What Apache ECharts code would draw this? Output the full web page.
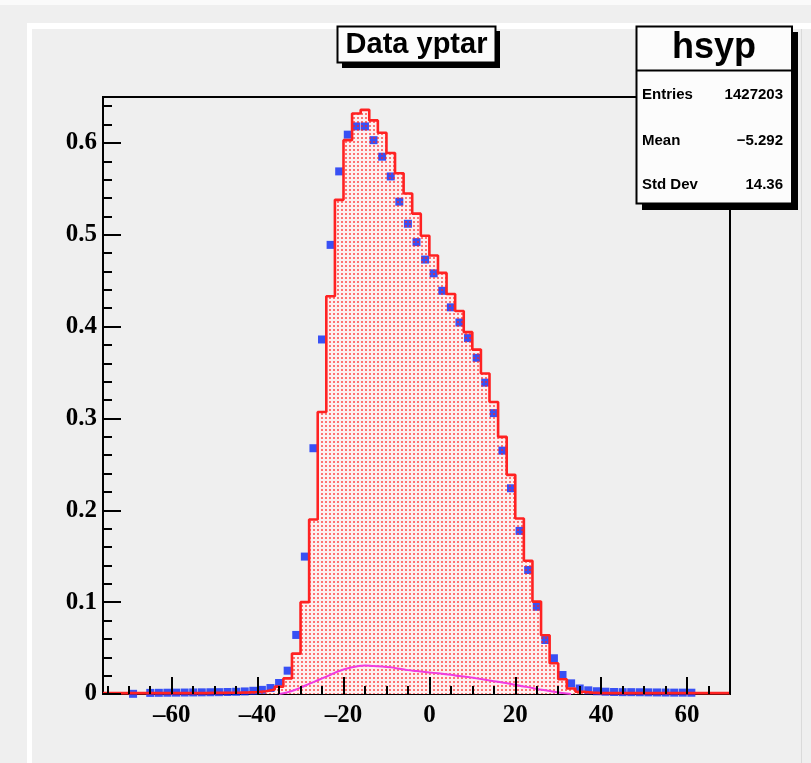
<!DOCTYPE html>
<html><head><meta charset="utf-8">
<script src="https://cdn.jsdelivr.net/npm/echarts@6/dist/echarts.min.js"></script>
<style>html,body{margin:0;padding:0;background:#efefef}#c{width:811px;height:763px}</style>
</head><body><div id="c"></div>
<script>
// ---- data ----
const binCenters = [-75,-73,-71,-69,-67,-65,-63,-61,-59,-57,-55,-53,-51,-49,-47,-45,-43,-41,-39,-37,-35,-33,-31,-29,-27,-25,-23,-21,-19,-17,-15,-13,-11,-9,-7,-5,-3,-1,1,3,5,7,9,11,13,15,17,19,21,23,25,27,29,31,33,35,37,39,41,43,45,47,49,51,53,55,57,59,61,63,65,67,69];
const BIN_HALF = 1;
const mcValues = [0.001,0.001,0.001,0.001,0.001,0.001,0.001,0.001,0.001,0.001,0.001,0.001,
  0.0012,0.0012,0.0013,0.0015,0.0018,0.0022,0.003,0.005,0.008,0.017,0.044,0.100,0.190,0.307,0.433,0.538,0.603,0.632,0.636,0.6245,0.611,0.589,0.567,0.545,0.523,0.499,0.4775,0.4585,0.4355,0.417,0.394,0.375,0.349,0.318,0.280,0.2386,0.191,0.145,0.1006,0.064,0.0334,0.016,0.006,0.0025,0.0015,
  0.001,0.001,0.001,0.001,0.001,0.001,0.001,0.001,0.001,0.001,0.001,0.001,0.001,0.001,0.001,0.001];
const dataValues = [null,null,null,0.0002,null,
  0.0012,0.0013,0.0014,0.0015,0.0016,0.0017,0.0018,0.0019,0.002,0.0022,0.0024,0.0028,0.0035,0.0045,0.0065,
  0.012,0.0254,0.0643,0.1496,0.2676,0.386,0.489,0.569,0.609,0.618,0.618,0.603,0.585,0.5635,0.536,0.512,0.492,0.473,0.458,0.439,0.421,0.4045,0.3875,0.366,0.339,0.3058,0.265,0.224,0.1776,0.135,0.095,0.0588,0.0389,0.0207,0.0116,0.006,0.004,
  0.003,0.0025,0.0022,0.002,0.002,0.0019,0.0018,0.0017,0.0016,0.0015,0.0015,0.0014,
  null,null,null,null];
const bgCenters = [-35,-33,-31,-29,-27,-25,-23,-21,-19,-17,-15,-13,-11,-9,-7,-5,-3,-1,1,3,5,7,9,11,13,15,17,19,21,23,25,27,29,31,33];
const bgValues = [0.0,0.002,0.005,0.009,0.013,0.017,0.021,0.025,0.028,0.030,0.031,0.0305,0.030,0.029,0.0275,0.026,0.025,0.024,0.023,0.022,0.021,0.0195,0.0185,0.017,0.0155,0.014,0.0125,0.011,0.009,0.0075,0.0055,0.004,0.0025,0.001,0.0];
const xMajorTicks = [-60,-40,-20,0,20,40,60];
const xMinorTicks = [-75,-70,-65,-55,-50,-45,-35,-30,-25,-15,-10,-5,5,10,15,25,30,35,45,50,55,65,70];
const yMajorTicks = [0,0.1,0.2,0.3,0.4,0.5,0.6];
const yMinorTicks = [0.02,0.04,0.06,0.08,0.12,0.14,0.16,0.18,0.22,0.24,0.26,0.28,0.32,0.34,0.36,0.38,0.42,0.44,0.46,0.48,0.52,0.54,0.56,0.58,0.62,0.64];
const titleText = 'Data yptar';
const statsName = 'hsyp';
const statsRows = [['Entries','1427203'],['Mean','\u22125.292'],['Std Dev','14.36']];

// ---- build ----
const stepPts = mcValues.map((v,i)=>[binCenters[i]-BIN_HALF, v]);
stepPts.push([binCenters[binCenters.length-1]+BIN_HALF, mcValues[mcValues.length-1]]);
const dataPts = [];
binCenters.forEach((x,i)=>{ if(dataValues[i]!==null) dataPts.push([x,dataValues[i]]); });
const bgPts = bgCenters.map((x,i)=>[x,bgValues[i]]);

function makePattern(){
  const c=document.createElement('canvas'); c.width=4; c.height=4;
  const g=c.getContext('2d');
  g.fillStyle='rgba(255,30,30,0.6)'; g.fillRect(1,1,2,2);
  return c;
}

const serifFont = '"Liberation Serif","Times New Roman",serif';
const sansFont = '"Liberation Sans",Arial,Helvetica,sans-serif';
const axisLabelBase = {fontFamily:serifFont, fontWeight:'bold', fontSize:25, color:'#000'};
const fmtMinus = v => (v===0?'0':String(v)).replace('-', '\u2013');

const chart = echarts.init(document.getElementById('c'), null, {renderer:'canvas'});
const option = {
  animation:false,
  backgroundColor:'#efefef',
  grid:{left:103, top:97, right:81, bottom:69, show:true, borderColor:'#000', borderWidth:2, backgroundColor:'transparent'},
  xAxis:[
    {type:'value', min:-76, max:70, position:'bottom', z:10,
      axisLine:{show:false, onZero:false}, splitLine:{show:false},
      axisTick:{show:true, inside:true, length:17, lineStyle:{color:'#000', width:2}, customValues:xMajorTicks},
      axisLabel:Object.assign({customValues:xMajorTicks, margin:9, formatter:fmtMinus}, axisLabelBase)},
    {type:'value', min:-76, max:70, position:'bottom', z:10,
      axisLine:{show:false, onZero:false}, splitLine:{show:false},
      axisTick:{show:true, inside:true, length:8, lineStyle:{color:'#000', width:2}, customValues:xMinorTicks},
      axisLabel:{show:false, customValues:xMinorTicks}}
  ],
  yAxis:[
    {type:'value', min:0, max:0.65, position:'left', z:10,
      axisLine:{show:false, onZero:false}, splitLine:{show:false},
      axisTick:{show:true, inside:true, length:18, lineStyle:{color:'#000', width:2}, customValues:yMajorTicks},
      axisLabel:Object.assign({customValues:yMajorTicks, margin:6, formatter:fmtMinus}, axisLabelBase)},
    {type:'value', min:0, max:0.65, position:'left', z:10,
      axisLine:{show:false, onZero:false}, splitLine:{show:false},
      axisTick:{show:true, inside:true, length:9, lineStyle:{color:'#000', width:2}, customValues:yMinorTicks},
      axisLabel:{show:false, customValues:yMinorTicks}}
  ],
  series:[
    {type:'line', xAxisIndex:0, yAxisIndex:0, data:stepPts, step:'end', symbol:'none', silent:true,
      lineStyle:{width:0, opacity:0}, areaStyle:{color:'#fdf0f0', opacity:1}, z:2},
    {type:'scatter', xAxisIndex:0, yAxisIndex:0, data:dataPts, symbol:'rect', symbolSize:8, silent:true,
      itemStyle:{color:'#0a28f5'}, z:3},
    {type:'line', xAxisIndex:0, yAxisIndex:0, data:stepPts, step:'end', symbol:'none', silent:true,
      lineStyle:{color:'#ff2222', width:2.6}, areaStyle:{color:{image:makePattern(), repeat:'repeat'}, opacity:1}, z:4},
    {type:'line', xAxisIndex:0, yAxisIndex:0, data:bgPts, smooth:true, symbol:'none', silent:true,
      lineStyle:{color:'#f03ce0', width:2}, z:5}
  ],
  graphic:[
    {type:'rect', shape:{x:0,y:0,width:811,height:5}, style:{fill:'#fafafa'}, z:-1, silent:true},
    {type:'rect', shape:{x:27,y:23,width:784,height:6}, style:{fill:'#ffffff'}, z:-1, silent:true},
    {type:'rect', shape:{x:27,y:23,width:5,height:740}, style:{fill:'#ffffff'}, z:-1, silent:true},
    {type:'rect', shape:{x:801,y:29,width:1,height:734}, style:{fill:'#dadada'}, z:-1, silent:true},
    // title box
    {type:'rect', shape:{x:342,y:31,width:158,height:37}, style:{fill:'#000'}, z:100, silent:true},
    {type:'rect', shape:{x:337.5,y:26.5,width:158,height:36}, style:{fill:'#fcfcfc', stroke:'#000', lineWidth:2}, z:101, silent:true},
    {type:'text', x:416.5, y:45, style:{text:titleText, font:'bold 29px '+sansFont, fill:'#000', align:'center', verticalAlign:'middle'}, z:102, silent:true},
    // stats box
    {type:'rect', shape:{x:642,y:32,width:156,height:178}, style:{fill:'#000'}, z:100, silent:true},
    {type:'rect', shape:{x:636.5,y:26.5,width:155.5,height:177}, style:{fill:'#fcfcfc', stroke:'#000', lineWidth:2}, z:101, silent:true},
    {type:'line', shape:{x1:636.5,y1:70.5,x2:792,y2:70.5}, style:{stroke:'#000', lineWidth:2}, z:102, silent:true},
    {type:'text', x:714, y:48, style:{text:statsName, font:'bold 36px '+sansFont, fill:'#000', align:'center', verticalAlign:'middle'}, z:102, silent:true},
    {type:'text', x:642, y:95, style:{text:statsRows[0][0], font:'bold 15px '+sansFont, fill:'#000', align:'left', verticalAlign:'middle'}, z:102, silent:true},
    {type:'text', x:783, y:95, style:{text:statsRows[0][1], font:'bold 15px '+sansFont, fill:'#000', align:'right', verticalAlign:'middle'}, z:102, silent:true},
    {type:'text', x:642, y:141, style:{text:statsRows[1][0], font:'bold 15px '+sansFont, fill:'#000', align:'left', verticalAlign:'middle'}, z:102, silent:true},
    {type:'text', x:783, y:141, style:{text:statsRows[1][1], font:'bold 15px '+sansFont, fill:'#000', align:'right', verticalAlign:'middle'}, z:102, silent:true},
    {type:'text', x:642, y:185, style:{text:statsRows[2][0], font:'bold 15px '+sansFont, fill:'#000', align:'left', verticalAlign:'middle'}, z:102, silent:true},
    {type:'text', x:783, y:185, style:{text:statsRows[2][1], font:'bold 15px '+sansFont, fill:'#000', align:'right', verticalAlign:'middle'}, z:102, silent:true}
  ]
};
chart.setOption(option);
</script>
</body></html>
